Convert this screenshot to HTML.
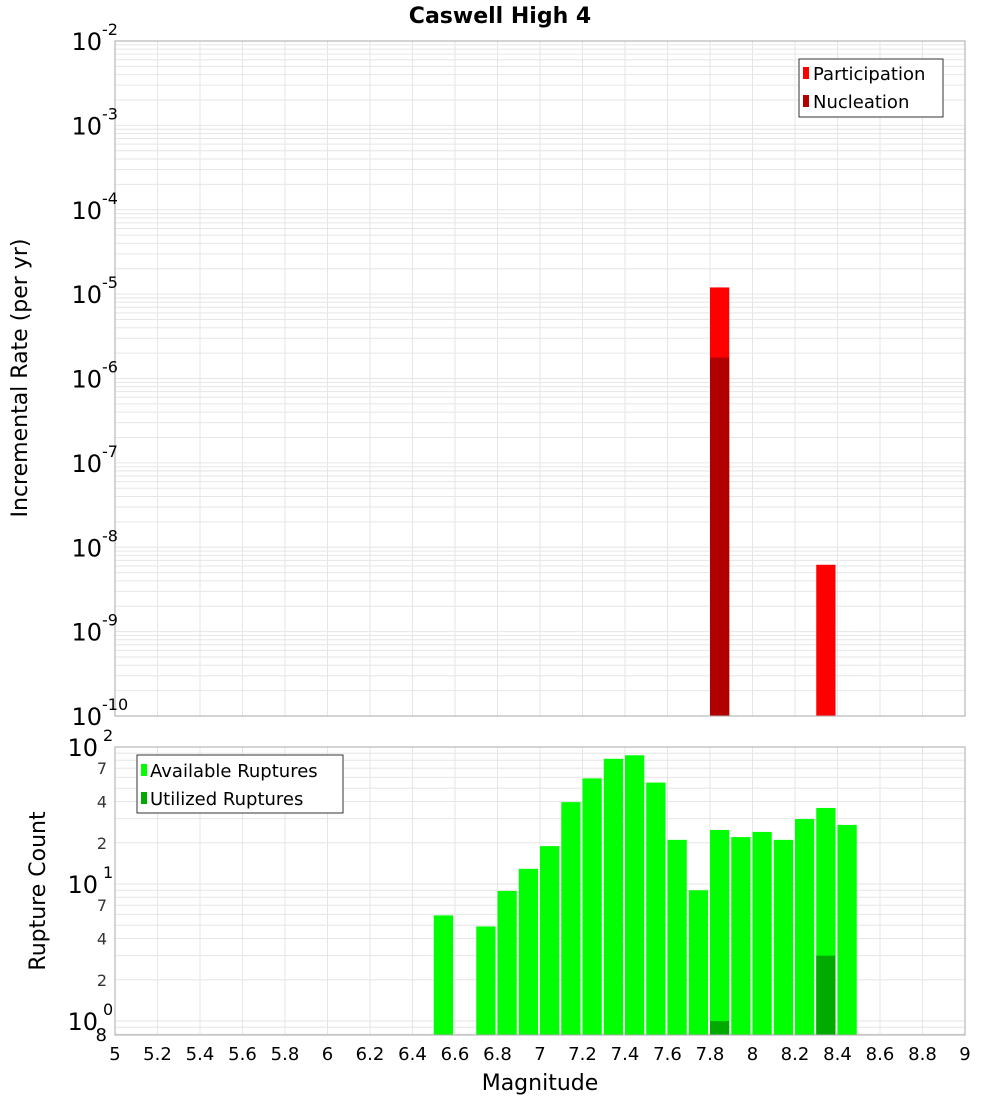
<!DOCTYPE html>
<html><head><meta charset="utf-8"><style>
body{margin:0;background:#fff;font-family:"DejaVu Sans","Liberation Sans",sans-serif;}
svg text{font-family:"DejaVu Sans","Liberation Sans",sans-serif;}
</style></head><body>
<svg id="chart" width="1000" height="1100" xmlns="http://www.w3.org/2000/svg">
<text x="500" y="23" text-anchor="middle" font-size="22" font-weight="bold">Caswell High 4</text>
<g id="topg"></g>
<g id="botg"></g>
<text transform="translate(27,378) rotate(-90)" text-anchor="middle" font-size="22">Incremental Rate (per yr)</text>
<text transform="translate(45,891) rotate(-90)" text-anchor="middle" font-size="22">Rupture Count</text>
<text x="540" y="1090" text-anchor="middle" font-size="22">Magnitude</text>
<g>
<rect x="799" y="59" width="144" height="58" fill="#fff" stroke="#333"/>
<rect x="803" y="67" width="6" height="12" fill="#ff0000"/>
<text x="813" y="80" font-size="18">Participation</text>
<rect x="803" y="95" width="6" height="12" fill="#b00000"/>
<text x="813" y="108" font-size="18">Nucleation</text>
</g>
<g>
<rect x="137" y="755" width="206" height="58" fill="#fff" stroke="#333"/>
<rect x="141" y="764" width="6" height="12" fill="#00ff00"/>
<text x="150" y="777" font-size="18">Available Ruptures</text>
<rect x="141" y="792" width="6" height="12" fill="#00aa00"/>
<text x="150" y="805" font-size="18">Utilized Ruptures</text>
</g>
</svg>
<script>
const xTicks=["5","5.2","5.4","5.6","5.8","6","6.2","6.4","6.6","6.8","7","7.2","7.4","7.6","7.8","8","8.2","8.4","8.6","8.8","9"];
const rateMags=[7.85,8.35];
const participation=[1.2e-5,6.2e-9];
const nucleationMags=[7.85];
const nucleation=[1.77e-6];
const countMags=[6.55,6.75,6.85,6.95,7.05,7.15,7.25,7.35,7.45,7.55,7.65,7.75,7.85,7.95,8.05,8.15,8.25,8.35,8.45];
const available=[5.9,4.9,8.9,12.9,18.9,39.6,59,82,87,55,21,9,24.8,22,24,21,29.8,35.9,27];
const utilizedMags=[7.85,8.35];
const utilized=[1.0,3.0];
const topExps=[-10,-9,-8,-7,-6,-5,-4,-3,-2];

const NS="http://www.w3.org/2000/svg";
const X0=115,X1=965;
const xs=m=>X0+(m-5)/4*(X1-X0);
const TY0=41,TY1=716;
const yTop=v=>TY1-(Math.log10(v)+10)*(TY1-TY0)/8;
const BY0=747,BY1=1035;
const yBot=v=>1021-137*Math.log10(v);
function mk(p,t,a){const e=document.createElementNS(NS,t);for(const k in a)e.setAttribute(k,a[k]);p.appendChild(e);return e;}
const topG=document.getElementById('topg'),botG=document.getElementById('botg');
mk(topG,'rect',{x:X0,y:TY0,width:X1-X0,height:TY1-TY0,fill:'#fff',stroke:'none'});
mk(botG,'rect',{x:X0,y:BY0,width:X1-X0,height:BY1-BY0,fill:'#fff',stroke:'none'});
for(let i=0;i<xTicks.length;i++){const xx=xs(+xTicks[i]);
 mk(topG,'line',{x1:xx,x2:xx,y1:TY0,y2:TY1,stroke:'#e6e6e6'});
 mk(botG,'line',{x1:xx,x2:xx,y1:BY0,y2:BY1,stroke:'#e6e6e6'});}
for(let e=-10;e<-2;e++)for(let k=1;k<10;k++){const yy=yTop(k*Math.pow(10,e));
 mk(topG,'line',{x1:X0,x2:X1,y1:yy,y2:yy,stroke:'#e6e6e6'});}
for(let e=-1;e<2;e++)for(let k=1;k<10;k++){const yy=yBot(k*Math.pow(10,e));
 if(yy<BY0||yy>BY1)continue;
 mk(botG,'line',{x1:X0,x2:X1,y1:yy,y2:yy,stroke:'#e6e6e6'});}
const bw=xs(5.1)-xs(5)-2;
rateMags.forEach((m,i)=>{const r=mk(topG,'rect',{x:xs(m-0.05),y:yTop(participation[i]),width:bw,height:TY1-yTop(participation[i]),fill:'#ff0000'});
 
 });
nucleationMags.forEach((m,i)=>{const r=mk(topG,'rect',{x:xs(m-0.05),y:yTop(nucleation[i]),width:bw,height:TY1-yTop(nucleation[i]),fill:'#b00000'});
 
 });
countMags.forEach((m,i)=>{const r=mk(botG,'rect',{x:xs(m-0.05),y:yBot(available[i]),width:bw,height:BY1-yBot(available[i]),fill:'#00ff00'});
 
 });
utilizedMags.forEach((m,i)=>{const r=mk(botG,'rect',{x:xs(m-0.05),y:yBot(utilized[i]),width:bw,height:BY1-yBot(utilized[i]),fill:'#00aa00'});
 
 });
mk(topG,'rect',{x:X0,y:TY0,width:X1-X0,height:TY1-TY0,fill:'none',stroke:'#aaa'});
mk(botG,'rect',{x:X0,y:BY0,width:X1-X0,height:BY1-BY0,fill:'none',stroke:'#aaa'});
topExps.forEach(e=>{const yy=yTop(Math.pow(10,e));
 const t=mk(topG,'text',{x:102,y:yy+9,'text-anchor':'end','font-size':24});t.textContent='10';
 
 
 const s=mk(topG,'text',{x:102,y:yy-6,'font-size':16});s.textContent=String(e);});
[[100,'10','2'],[10,'10','1'],[1,'10','0']].forEach(([v,b,p])=>{const yy=yBot(v);
 const t=mk(botG,'text',{x:98,y:yy+9,'text-anchor':'end','font-size':24});t.textContent=b;
 
 
 const s=mk(botG,'text',{x:103,y:yy-6,'font-size':16});s.textContent=p;});
[70,40,20,7,4,2].forEach(v=>{const t=mk(botG,'text',{x:107,y:yBot(v)+6,'text-anchor':'end','font-size':16,fill:'#333'});t.textContent=String(v).charAt(0);});
{const t=mk(botG,'text',{x:107,y:1041,'text-anchor':'end','font-size':18});t.textContent='8';}
xTicks.forEach(s=>{const t=mk(botG,'text',{x:xs(+s),y:1060,'text-anchor':'middle','font-size':18});t.textContent=s;
 
 });
</script>
</body></html>
